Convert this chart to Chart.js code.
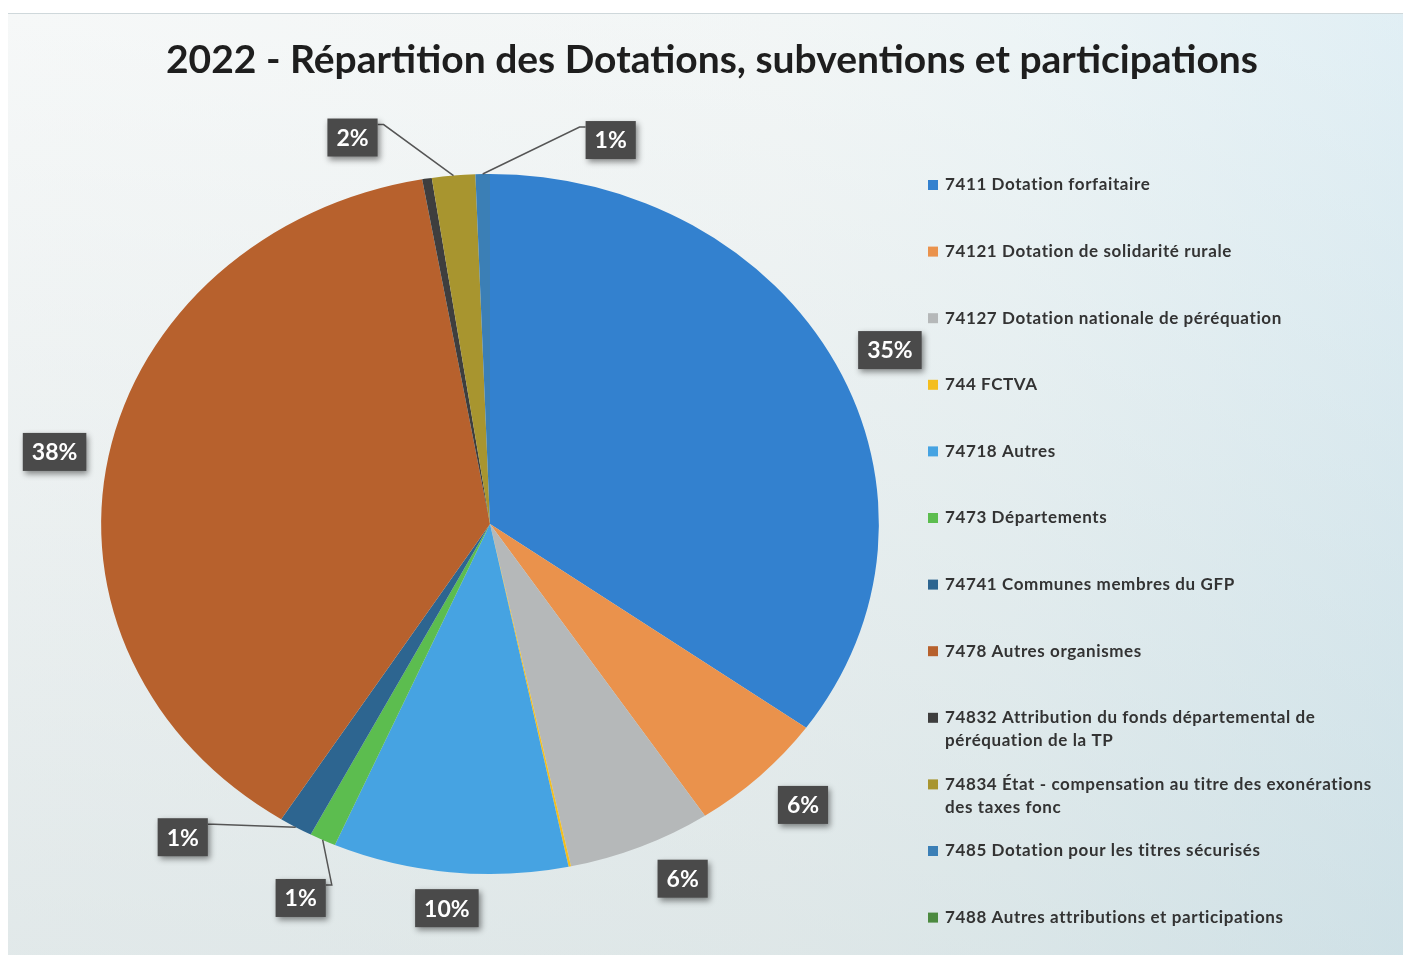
<!DOCTYPE html>
<html lang="fr">
<head>
<meta charset="UTF-8">
<title>2022 - Répartition des Dotations, subventions et participations</title>
<script src="https://cdn.jsdelivr.net/npm/chart.js"></script>
<style>
  html, body { margin: 0; padding: 0; background: #fff; overflow: hidden; }
  .cadre {
    position: absolute; left: 8px; top: 13px; width: 1395px; height: 942px;
    border-top: 1px solid #cfd8db;
    background:
      linear-gradient(180deg, rgba(255,255,255,0.3) 0%, rgba(200,214,216,0.4) 100%),
      linear-gradient(90deg, #f2f5f5 0%, #edf2f2 55%, #e6f0f2 72%, #d4e8f0 100%);
  }
  canvas { position: absolute; left: 0; top: 0; }
</style>
</head>
<body>

<div class="cadre"></div>
<canvas id="graphique" width="1403" height="955"></canvas>

<script>
// Données (en % du total)
const titre = "2022 - Répartition des Dotations, subventions et participations";

const categories = [
  "7411 Dotation forfaitaire",
  "74121 Dotation de solidarité rurale",
  "74127 Dotation nationale de péréquation",
  "744 FCTVA",
  "74718 Autres",
  "7473 Départements",
  "74741 Communes membres du GFP",
  "7478 Autres organismes",
  ["74832 Attribution du fonds départemental de", "péréquation de la TP"],
  ["74834 État - compensation au titre des exonérations", "des taxes fonc"],
  "7485 Dotation pour les titres sécurisés",
  "7488 Autres attributions et participations"
];

const valeurs = [35.0, 5.8, 6.0, 0.1, 9.8, 1.1, 1.4, 38.3, 0.4, 1.8, 0.6, 0];

const couleurs = [
  "#3381cf", "#ea924c", "#b5b8b9", "#f4be1e", "#46a3e2", "#5cbd4f",
  "#2d6590", "#b7612d", "#3e3e3e", "#a8952f", "#3b7fb6", "#4c8a40"
];

// décalage des étiquettes par rapport au bord de la part, et traits de rappel
const decalages = [[54, -14], [43, 29], [42, 32], null, [-3, 36], [-22, 58],
                   [-113, 10], [-54, -4], null, [-101, -38], [128, -34], null];
const rappel = [false, false, false, false, false, true, true, false, false, true, true, false];

const police = "Lato, 'Open Sans', sans-serif";

// la part est légèrement aplatie sur l'original (scan)
const etirement = { x: 1.051, y: 0.946 };

const aplatir = {
  id: 'aplatir',
  beforeDatasetsDraw(chart) {
    const arc = chart.getDatasetMeta(0).data[0];
    const ctx = chart.ctx;
    ctx.save();
    ctx.translate(arc.x, arc.y);
    ctx.scale(etirement.x, etirement.y);
    ctx.translate(-arc.x, -arc.y);
  },
  afterDatasetsDraw(chart) {
    chart.ctx.restore();
  }
};

const habillage = {
  id: 'habillage',
  afterDraw(chart) {
    const ctx = chart.ctx;
    ctx.save();

    // titre
    ctx.fillStyle = '#1e1e1e';
    ctx.font = 'bold 34px ' + police;
    const w = ctx.measureText(titre).width;
    const taille = Math.round(34 * 1080 / w);
    ctx.font = 'bold ' + taille + 'px ' + police;
    ctx.textAlign = 'center';
    ctx.textBaseline = 'middle';
    ctx.fillText(titre, 712, 60);

    // légende
    ctx.textAlign = 'left';
    ctx.font = 'bold 17px ' + police;
    ctx.letterSpacing = '0.6px';
    categories.forEach((lab, i) => {
      const y = 185 + i * 66.6;
      ctx.fillStyle = couleurs[i];
      ctx.fillRect(928, y - 5, 10, 10);
      ctx.fillStyle = '#333';
      const lignes = Array.isArray(lab) ? lab : [lab];
      lignes.forEach((l, k) => ctx.fillText(l, 945, y + k * 23));
    });
    ctx.letterSpacing = '0px';

    // étiquettes de pourcentage
    const meta = chart.getDatasetMeta(0);
    const total = valeurs.reduce((a, b) => a + b, 0);
    ctx.font = 'bold 23px ' + police;
    ctx.textAlign = 'center';
    meta.data.forEach((arc, i) => {
      if (!decalages[i]) return;
      const pct = Math.round(valeurs[i] / total * 100);
      const mil = (arc.startAngle + arc.endAngle) / 2;
      const ex = arc.x + Math.cos(mil) * arc.outerRadius * etirement.x;
      const ey = arc.y + Math.sin(mil) * arc.outerRadius * etirement.y;
      const bx = ex + decalages[i][0];
      const by = ey + decalages[i][1];
      const texte = pct + '%';
      const bw = ctx.measureText(texte).width + 18;
      const bh = 38;

      if (rappel[i]) {
        const cote = ex > bx ? bx + bw / 2 : bx - bw / 2;
        const ty = by - bh / 2 + 6;
        const coude = cote + (ex > bx ? 6 : -6);
        ctx.strokeStyle = '#555';
        ctx.lineWidth = 1.5;
        ctx.beginPath();
        ctx.moveTo(ex, ey);
        ctx.lineTo(coude, ty);
        ctx.lineTo(cote, ty);
        ctx.stroke();
      }

      ctx.save();
      ctx.shadowColor = 'rgba(0,0,0,0.45)';
      ctx.shadowBlur = 6;
      ctx.shadowOffsetX = 2;
      ctx.shadowOffsetY = 3;
      ctx.fillStyle = '#4a4a4a';
      ctx.fillRect(bx - bw / 2, by - bh / 2, bw, bh);
      ctx.restore();
      ctx.fillStyle = '#fff';
      ctx.fillText(texte, bx, by + 1);
    });

    ctx.restore();
  }
};

new Chart(document.getElementById('graphique').getContext('2d'), {
  type: 'pie',
  data: {
    labels: categories,
    datasets: [{
      data: valeurs,
      backgroundColor: couleurs,
      borderWidth: 0
    }]
  },
  options: {
    responsive: false,
    animation: false,
    layout: { padding: { left: 120, right: 543, top: 154, bottom: 61 } },
    plugins: {
      legend: { display: false },
      tooltip: { enabled: false }
    }
  },
  plugins: [aplatir, habillage]
});
</script>

</body>
</html>
